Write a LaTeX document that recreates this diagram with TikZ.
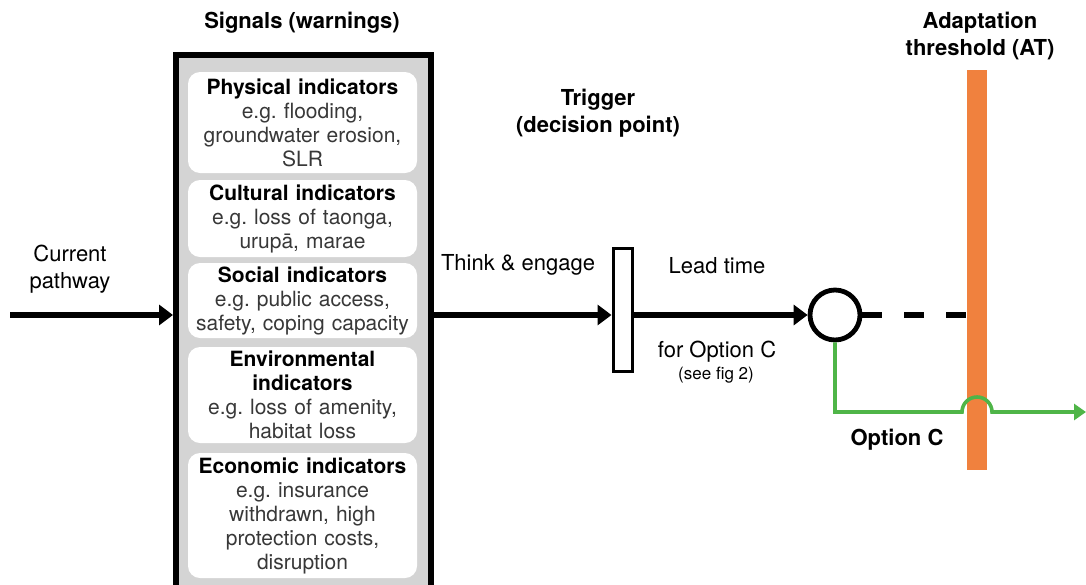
\documentclass[tikz,border=0pt]{standalone}
\usepackage{fontspec}
\setmainfont{TeX Gyre Heros}
\usetikzlibrary{arrows.meta}
\frenchspacing

\definecolor{atorange}{HTML}{F0813E}
\definecolor{optgreen}{HTML}{4FB548}
\definecolor{panelgray}{HTML}{D4D4D4}

\newcommand{\indtitle}[1]{\textcolor{black}{\bfseries #1}\\}

\tikzstyle{panel}=[
    draw,
    line width=3pt,
    fill=panelgray,
    inner sep=0pt,
    minimum width=127.5pt,
    minimum height=267.5pt,
  ]
\tikzstyle{indbox}=[
    fill=white,
    rounded corners=6pt,
    inner sep=0.5pt,
    minimum width=114.5pt,
    text width=112pt,
    align=center,
    text=black!78,
    font=\fontsize{10.5}{12}\selectfont,
  ]
\tikzstyle{flow}=[
    -{Triangle[length=7pt,width=10pt]},
    line width=2.6pt,
  ]
\tikzstyle{optline}=[
    -{Triangle[length=6pt,width=8pt]},
    line width=1.8pt,
    draw=optgreen,
  ]
\tikzstyle{lbl}=[
    align=center,
    font=\fontsize{11}{13.5}\selectfont,
  ]
\tikzstyle{hdr}=[
    align=center,
    font=\fontsize{11}{13.5}\selectfont\bfseries,
  ]

\begin{document}
\begin{tikzpicture}[x=0.5pt, y=-0.5pt]
      \useasboundingbox (0,0) rectangle (1086,584);
      \node[panel] (signals) at (303.5,322.5) {};
      \foreach \n/\y/\h/\t in {%
        phys/122.5/101/{\indtitle{Physical indicators}e.g. flooding,\\groundwater erosion,\\SLR},
        cult/218.5/77/{\indtitle{Cultural indicators}e.g. loss of taonga,\\urupā, marae},
        soc/300.5/75/{\indtitle{Social indicators}e.g. public access,\\safety, coping capacity},
        env/395/96/{\indtitle{Environmental\\indicators}e.g. loss of amenity,\\habitat loss},
        econ/515.5/125/{\indtitle{Economic indicators}e.g. insurance\\withdrawn, high\\protection costs,\\disruption}} {%
        \node[indbox, minimum height=\h*0.5pt] (\n) at (302.5,\y) {\t};
      }
      \node[hdr] (sigtitle) at (302,23) {Signals (warnings)};

      \coordinate (start) at (10,315);
      \coordinate (cend) at (1086,412);
      \node[draw, line width=1.5pt, fill=white, inner sep=0pt,
        minimum width=9.5pt, minimum height=61.5pt] (trig) at (622.5,309.5) {};
      \node[circle, draw, line width=2.4pt, inner sep=0pt,
        minimum size=25pt] (opt) at (835,315) {};
      \node[fill=atorange, inner sep=0pt, minimum width=10pt,
        minimum height=200pt] (thr) at (977,270) {};

      \draw[flow] (start) -- (signals.west |- start);
      \draw[flow] (signals.east |- start) -- (trig.west |- start);
      \draw[flow] (trig.east |- start) -- (opt.west);
      \draw[line width=2.6pt, dash pattern=on 10pt off 11pt] (opt.east) -- (thr.west |- opt.east);
      \draw[optline] (opt.south) |- ([xshift=-7.5pt]thr.center |- cend)
        arc[start angle=180, end angle=0, radius=7.5pt] -- (cend);

      \node[lbl] (cur) at (70,269) {Current\\pathway};
      \node[lbl] (think) at (518,265) {Think \& engage};
      \node[hdr] (trigtitle) at (598,113.5) {Trigger\\(decision point)};
      \node[lbl] (lead) at (717,266) {Lead time};
      \node[lbl] (forc) at (717,352) {for Option C};
      \node[lbl, font=\fontsize{8.5}{10}\selectfont] (seefig) at (716,375) {(see fig 2)};
      \node[hdr] (attitle) at (980,36.5) {Adaptation\\threshold (AT)};
      \node[hdr] (optc) at (897,440) {Option C};
    \end{tikzpicture}
\end{document}
